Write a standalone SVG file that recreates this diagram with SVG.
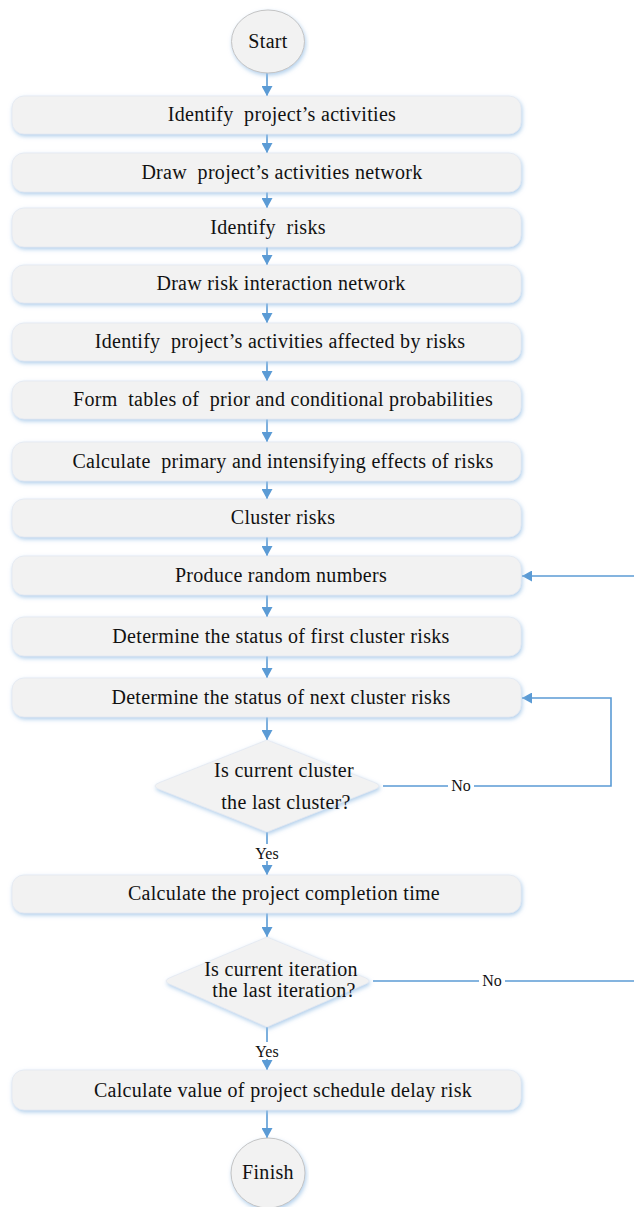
<svg xmlns="http://www.w3.org/2000/svg" width="634" height="1207" viewBox="0 0 634 1207">
<style>
.box{fill:#f2f2f2;stroke:#e3e9f1;stroke-width:0.8;filter:url(#sh)}
.term{fill:#f2f2f2;stroke:#c4c4c4;stroke-width:1;filter:url(#sh)}
.t{font-family:'Liberation Serif','DejaVu Serif',serif;font-size:20px;fill:#111;text-anchor:middle;letter-spacing:0.3px}
.lbl{font-family:'Liberation Serif','DejaVu Serif',serif;font-size:16px;fill:#111;text-anchor:middle}
.c{fill:none;stroke:#5b9bd5;stroke-width:1.6}
</style>
<defs>
<filter id="sh" x="-5%" y="-20%" width="110%" height="150%">
<feDropShadow dx="1" dy="2" stdDeviation="2" flood-color="#9dc3e6" flood-opacity="0.8"/>
</filter>
<marker id="ah" markerWidth="10" markerHeight="11" refX="10" refY="5.5" orient="auto" markerUnits="userSpaceOnUse">
<path d="M0,0 L10,5.5 L0,11 Z" fill="#5b9bd5"/>
</marker>
</defs>

<g id="connectors">
<path class="c" d="M267,73 V96" marker-end="url(#ah)"/>
<path class="c" d="M267,134 V153" marker-end="url(#ah)"/>
<path class="c" d="M267,192 V208" marker-end="url(#ah)"/>
<path class="c" d="M267,247 V265" marker-end="url(#ah)"/>
<path class="c" d="M267,303 V323" marker-end="url(#ah)"/>
<path class="c" d="M267,361 V381" marker-end="url(#ah)"/>
<path class="c" d="M267,419 V442" marker-end="url(#ah)"/>
<path class="c" d="M267,481 V499" marker-end="url(#ah)"/>
<path class="c" d="M267,537 V556" marker-end="url(#ah)"/>
<path class="c" d="M267,595 V617" marker-end="url(#ah)"/>
<path class="c" d="M267,656 V678" marker-end="url(#ah)"/>
<path class="c" d="M267,717 V740" marker-end="url(#ah)"/>
<path class="c" d="M267,832 V875" marker-end="url(#ah)"/>
<path class="c" d="M267,913 V937" marker-end="url(#ah)"/>
<path class="c" d="M267,1027 V1070" marker-end="url(#ah)"/>
<path class="c" d="M267,1110 V1138" marker-end="url(#ah)"/>
<path class="c" d="M383,786 H611 V698 H522" marker-end="url(#ah)"/>
<path class="c" d="M634,576 H522" marker-end="url(#ah)"/>
<path class="c" d="M373,981 H634"/>
<rect x="254" y="844" width="26" height="17" fill="#fff"/>
<text class="lbl" x="267" y="859">Yes</text>
<rect x="254" y="1042" width="26" height="17" fill="#fff"/>
<text class="lbl" x="267" y="1057">Yes</text>
<rect x="448" y="778" width="26" height="16" fill="#fff"/>
<text class="lbl" x="461" y="791">No</text>
<rect x="479" y="973" width="26" height="16" fill="#fff"/>
<text class="lbl" x="492" y="986">No</text>
</g>

<g id="start">
<ellipse class="term" cx="268" cy="41.5" rx="36.5" ry="31.5"/>
<text class="t" x="268" y="48">Start</text>
</g>

<g id="n1"><rect class="box" x="12" y="96" width="509" height="38" rx="12"/>
<text class="t" x="282" y="121" xml:space="preserve">Identify  project’s activities</text></g>
<g id="n2"><rect class="box" x="12" y="153" width="509" height="39" rx="12"/>
<text class="t" x="282" y="179" xml:space="preserve">Draw  project’s activities network</text></g>
<g id="n3"><rect class="box" x="12" y="208" width="509" height="39" rx="12"/>
<text class="t" x="268" y="234" xml:space="preserve">Identify  risks</text></g>
<g id="n4"><rect class="box" x="12" y="265" width="509" height="38" rx="12"/>
<text class="t" x="281" y="290">Draw risk interaction network</text></g>
<g id="n5"><rect class="box" x="12" y="323" width="509" height="38" rx="12"/>
<text class="t" x="280" y="348" xml:space="preserve">Identify  project’s activities affected by risks</text></g>
<g id="n6"><rect class="box" x="12" y="381" width="509" height="38" rx="12"/>
<text class="t" x="283" y="406" xml:space="preserve">Form  tables of  prior and conditional probabilities</text></g>
<g id="n7"><rect class="box" x="12" y="442" width="509" height="39" rx="12"/>
<text class="t" x="283" y="468" xml:space="preserve">Calculate  primary and intensifying effects of risks</text></g>
<g id="n8"><rect class="box" x="12" y="499" width="509" height="38" rx="12"/>
<text class="t" x="283" y="524">Cluster risks</text></g>
<g id="n9"><rect class="box" x="12" y="556" width="509" height="39" rx="12"/>
<text class="t" x="281" y="582">Produce random numbers</text></g>
<g id="n10"><rect class="box" x="12" y="617" width="509" height="39" rx="12"/>
<text class="t" x="281" y="643">Determine the status of first cluster risks</text></g>
<g id="n11"><rect class="box" x="12" y="678" width="509" height="39" rx="12"/>
<text class="t" x="281" y="704">Determine the status of next cluster risks</text></g>

<g id="d1">
<path class="box" d="M267,740 L375,782.8 Q383,786 375,789.2 L267,832 L159,789.2 Q151,786 159,782.8 Z"/>
<text class="t" x="284" y="777">Is current cluster</text>
<text class="t" x="286" y="809">the last cluster?</text>
</g>

<g id="n12"><rect class="box" x="12" y="875" width="509" height="38" rx="12"/>
<text class="t" x="284" y="900">Calculate the project completion time</text></g>

<g id="d2">
<path class="box" d="M267,937 L365,977.7 Q373,981 365,984.3 L267,1027 L170,984.3 Q162,981 170,977.7 Z"/>
<text class="t" x="281" y="976">Is current iteration</text>
<text class="t" x="284" y="997">the last iteration?</text>
</g>

<g id="n13"><rect class="box" x="12" y="1070" width="509" height="40" rx="12"/>
<text class="t" x="283" y="1097">Calculate value of project schedule delay risk</text></g>

<g id="finish">
<ellipse class="term" cx="268" cy="1173" rx="37" ry="35"/>
<text class="t" x="268" y="1179">Finish</text>
</g>
</svg>
